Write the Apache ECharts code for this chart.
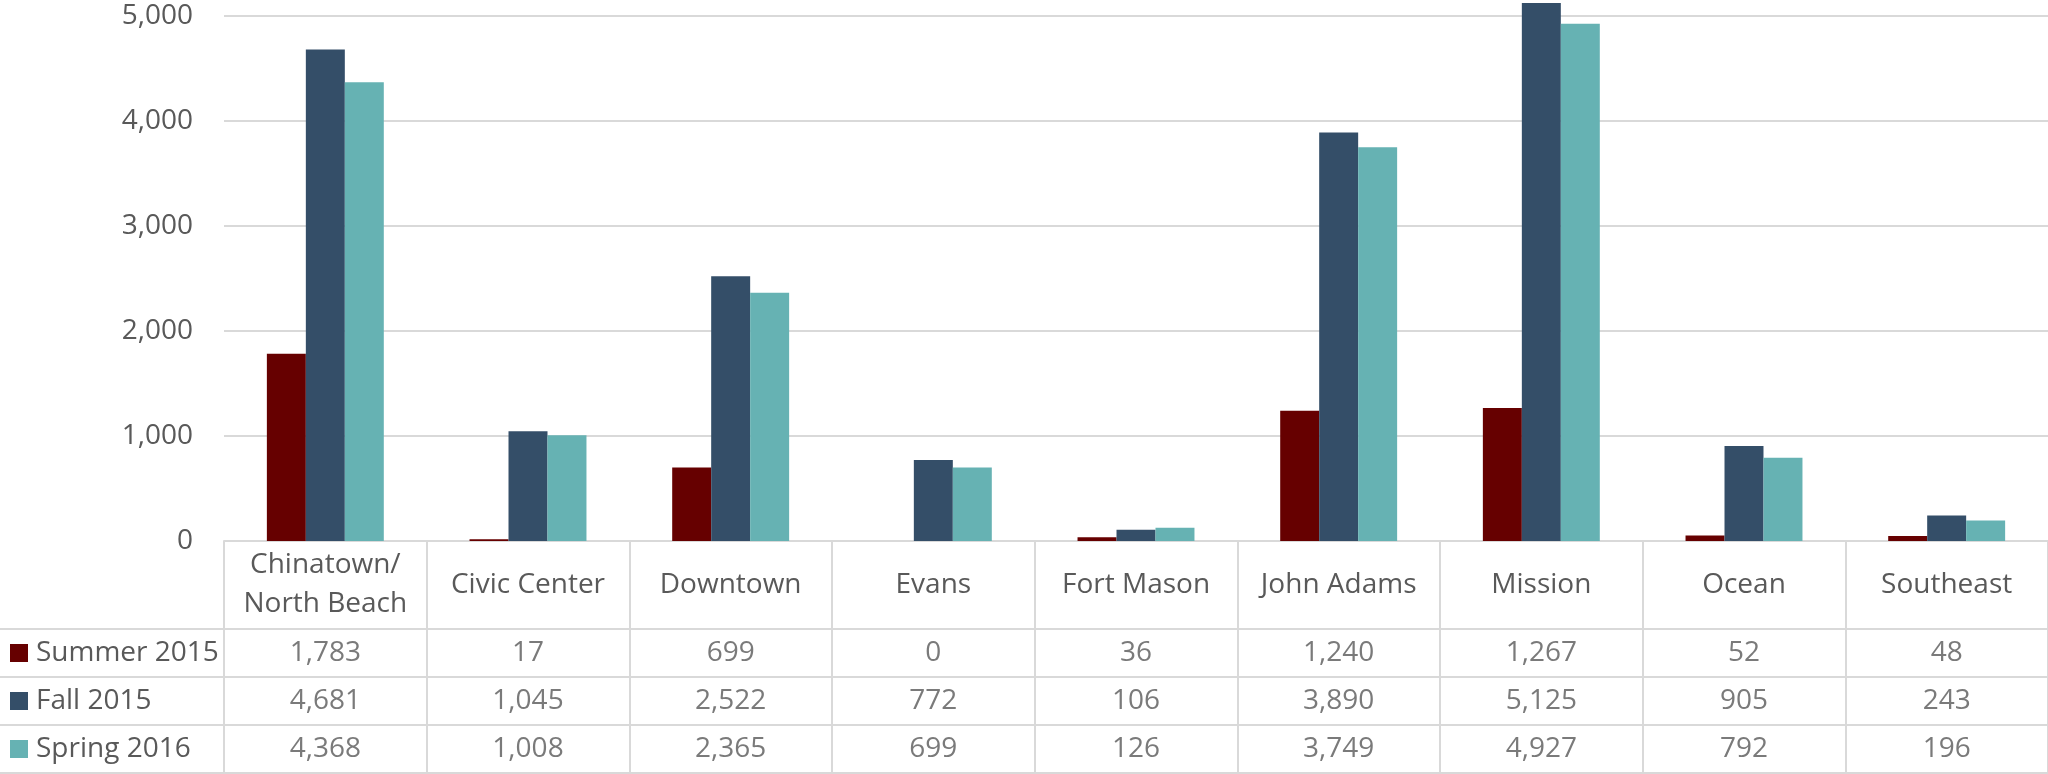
<!DOCTYPE html>
<html>
<head>
<meta charset="utf-8">
<script src="https://cdn.jsdelivr.net/npm/echarts@6/dist/echarts.min.js"></script>
<style>
html,body{margin:0;padding:0;background:#fff;}
#chart{width:2048px;height:774px;}
</style>
</head>
<body>
<div id="chart"></div>
<script>
const categories = ['Chinatown/\nNorth Beach', 'Civic Center', 'Downtown', 'Evans', 'Fort Mason', 'John Adams', 'Mission', 'Ocean', 'Southeast'];
const seriesNames = ['Summer 2015', 'Fall 2015', 'Spring 2016'];
const summer2015 = [1783, 17, 699, 0, 36, 1240, 1267, 52, 48];
const fall2015 = [4681, 1045, 2522, 772, 106, 3890, 5125, 905, 243];
const spring2016 = [4368, 1008, 2365, 699, 126, 3749, 4927, 792, 196];
const yMin = 0, yMax = 5000, yStep = 1000;

const seriesValues = [summer2015, fall2015, spring2016];
const colors = ['#660000', '#344E68', '#66B2B3'];
const textColor = '#595959';
const lineColor = '#D9D9D9';
const font = '"Open Sans", "Noto Sans", sans-serif';
const fs = 28;

const fmt = v => Number(v).toLocaleString('en-US');

const barSeries = seriesNames.map((name, r) => ({
  name: name,
  type: 'bar',
  xAxisIndex: 0,
  yAxisIndex: 0,
  data: seriesValues[r],
  barGap: '0%',
  barCategoryGap: '42.3%',
  clip: false,
  itemStyle: { color: colors[r] }
}));

const cellData = [];
seriesValues.forEach((vals, r) => {
  vals.forEach((v, i) => cellData.push([i, r, v]));
});

const tableSeries = {
  name: 'table',
  type: 'scatter',
  xAxisIndex: 1,
  yAxisIndex: 1,
  symbolSize: 1,
  itemStyle: { color: 'rgba(0,0,0,0)' },
  silent: true,
  data: cellData,
  label: {
    show: true,
    position: 'inside',
    color: textColor,
    fontFamily: font,
    fontSize: fs,
    formatter: p => fmt(p.value[2])
  }
};

const legendRich = { t: { color: textColor, fontFamily: font, fontSize: fs, padding: [0, 0, 0, 8] } };
colors.forEach((c, i) => { legendRich['k' + i] = { width: 18, height: 18, backgroundColor: c }; });

const chart = echarts.init(document.getElementById('chart'), null, { renderer: 'canvas' });
chart.setOption({
  animation: false,
  backgroundColor: '#ffffff',
  color: colors,
  grid: [
    { left: 224, top: 16, width: 1826, height: 525 },
    { left: 224, top: 629, width: 1826, height: 144 }
  ],
  xAxis: [
    {
      type: 'category',
      gridIndex: 0,
      data: categories,
      axisLine: { show: true, lineStyle: { color: lineColor, width: 2 } },
      axisTick: { show: true, length: 233, lineStyle: { color: lineColor, width: 2 } },
      axisLabel: {
        interval: 0,
        color: textColor,
        fontFamily: font,
        fontSize: fs,
        lineHeight: 39,
        verticalAlign: 'middle',
        margin: 44
      }
    },
    {
      type: 'category',
      gridIndex: 1,
      data: categories,
      show: false
    }
  ],
  yAxis: [
    {
      type: 'value',
      gridIndex: 0,
      min: yMin,
      max: yMax,
      interval: yStep,
      axisLine: { show: false },
      axisTick: { show: false },
      splitLine: { show: true, lineStyle: { color: lineColor, width: 2 } },
      axisLabel: {
        color: textColor,
        fontFamily: font,
        fontSize: fs,
        margin: 31,
        formatter: v => fmt(v)
      }
    },
    {
      type: 'category',
      gridIndex: 1,
      data: seriesNames,
      inverse: true,
      axisLine: { show: false },
      axisLabel: {
        show: true,
        interval: 0,
        align: 'left',
        margin: 214,
        formatter: (v, i) => '{k' + i + '|}{t|' + v + '}',
        rich: legendRich
      },
      axisTick: { show: true, length: 224, lineStyle: { color: lineColor, width: 2 } },
      splitLine: { show: true, lineStyle: { color: lineColor, width: 2 } }
    }
  ],
  series: barSeries.concat([tableSeries])
});
</script>
</body>
</html>
